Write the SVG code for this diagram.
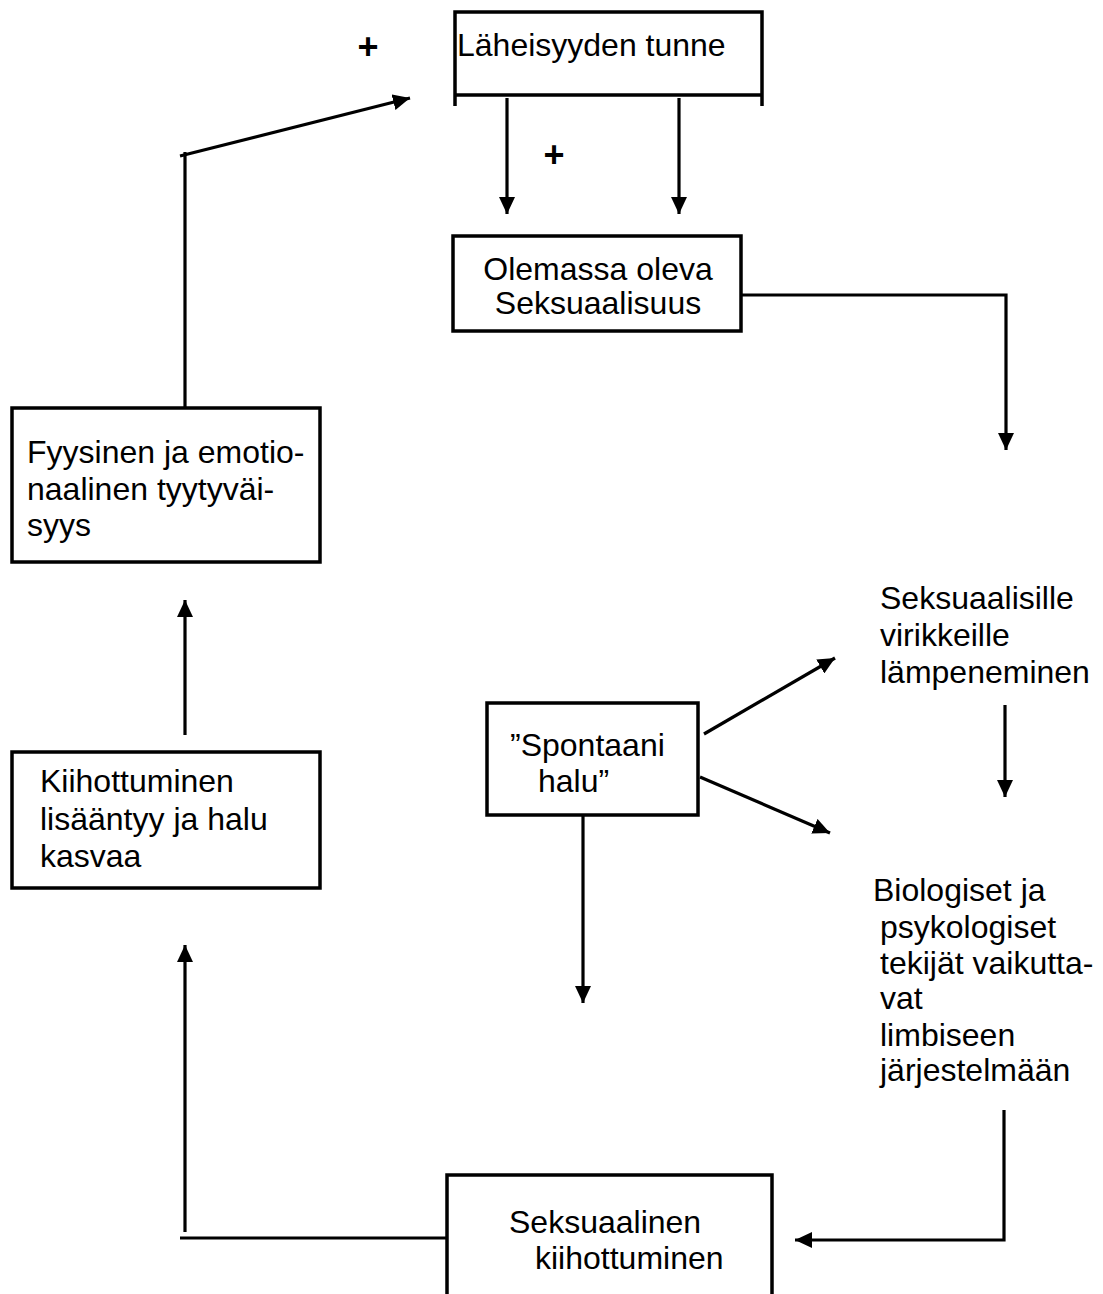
<svg xmlns="http://www.w3.org/2000/svg" width="1103" height="1294" viewBox="0 0 1103 1294">
<style>
.t{font-family:"Liberation Sans",Arial,sans-serif;font-size:32px;fill:#000}
.p{font-family:"Liberation Sans",Arial,sans-serif;font-size:36px;font-weight:bold;fill:#000}
.b{fill:#fff;stroke:#000;stroke-width:3.5}
.c{fill:none;stroke:#000;stroke-width:3.2}
</style>
<defs>
<marker id="ah" viewBox="0 0 17 16" markerWidth="17" markerHeight="16" refX="17" refY="8" orient="auto" markerUnits="userSpaceOnUse">
<path d="M0,0 L17,8 L0,16 z" fill="#000"/>
</marker>
</defs>
<rect width="1103" height="1294" fill="#fff"/>
<g id="connectors">
<path class="c" d="M507,98 V214" marker-end="url(#ah)"/>
<path class="c" d="M679,98 V214" marker-end="url(#ah)"/>
<path class="c" d="M738,295 H1006 V450" marker-end="url(#ah)"/>
<path class="c" d="M185,420 V152"/>
<path class="c" d="M180,156 L410,98" marker-end="url(#ah)"/>
<path class="c" d="M185,735 V600" marker-end="url(#ah)"/>
<path class="c" d="M185,1232 V945" marker-end="url(#ah)"/>
<path class="c" d="M180,1238 H447"/>
<path class="c" d="M1004,1110 V1240 H795" marker-end="url(#ah)"/>
<path class="c" d="M583,815 V1003" marker-end="url(#ah)"/>
<path class="c" d="M704,734 L835,658" marker-end="url(#ah)"/>
<path class="c" d="M700,777 L830,833" marker-end="url(#ah)"/>
<path class="c" d="M1005,705 V797" marker-end="url(#ah)"/>
</g>
<g id="plus1"><text class="p" text-anchor="middle" x="368" y="59">+</text></g>
<g id="plus2"><text class="p" text-anchor="middle" x="554" y="167">+</text></g>
<g id="laheisyys">
<path class="c" style="stroke-width:3.5" d="M455,106 V12 H762 V106 M455,95 H762"/>
<text class="t" x="457" y="56">Läheisyyden tunne</text>
</g>
<g id="olemassa">
<rect class="b" x="453" y="236" width="288" height="95"/>
<text class="t" text-anchor="middle" x="598" y="280">Olemassa oleva</text>
<text class="t" text-anchor="middle" x="598" y="314">Seksuaalisuus</text>
</g>
<g id="tyytyvaisyys">
<rect class="b" x="12" y="408" width="308" height="154"/>
<text class="t" x="27" y="463">Fyysinen ja emotio-</text>
<text class="t" x="27" y="500">naalinen tyytyväi-</text>
<text class="t" x="27" y="536">syys</text>
</g>
<g id="kiihottuminen-lisaantyy">
<rect class="b" x="12" y="752" width="308" height="136"/>
<text class="t" x="40" y="792">Kiihottuminen</text>
<text class="t" x="40" y="830">lisääntyy ja halu</text>
<text class="t" x="40" y="867">kasvaa</text>
</g>
<g id="spontaani">
<rect class="b" x="487" y="703" width="211" height="112"/>
<text class="t" x="510" y="756">”Spontaani</text>
<text class="t" x="538" y="792">halu”</text>
</g>
<g id="virikkeet">
<text class="t" x="880" y="609">Seksuaalisille</text>
<text class="t" x="880" y="646">virikkeille</text>
<text class="t" x="880" y="683">lämpeneminen</text>
</g>
<g id="tekijat">
<text class="t" x="873" y="901">Biologiset ja</text>
<text class="t" x="880" y="938">psykologiset</text>
<text class="t" x="880" y="974">tekijät vaikutta-</text>
<text class="t" x="880" y="1009">vat</text>
<text class="t" x="880" y="1046">limbiseen</text>
<text class="t" x="880" y="1081">järjestelmään</text>
</g>
<g id="seksuaalinen-kiihottuminen">
<rect class="b" x="447" y="1175" width="325" height="140"/>
<text class="t" x="509" y="1233">Seksuaalinen</text>
<text class="t" x="535" y="1269">kiihottuminen</text>
</g>
</svg>
